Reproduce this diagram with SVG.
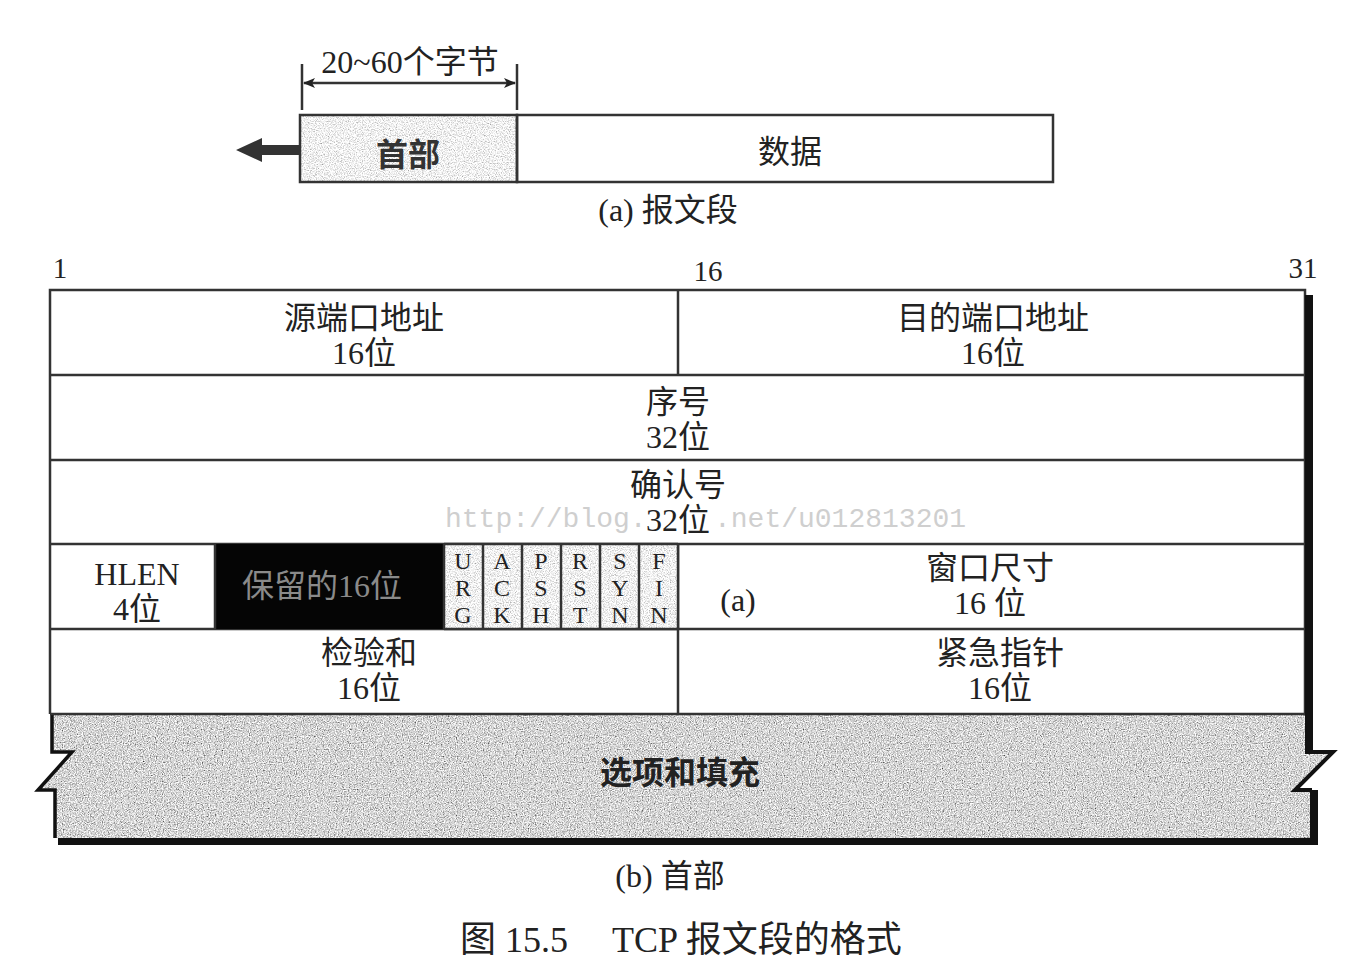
<svg xmlns="http://www.w3.org/2000/svg" width="1348" height="966" viewBox="0 0 1348 966">
  <style>
    .t { font-family: "Liberation Serif", "Noto Sans CJK SC", serif; fill: #222; text-anchor: middle; font-size: 32px; }
    .num { font-size: 29px; }
    .ln { stroke: #333; stroke-width: 2.5; fill: none; }
    .flag { font-family: "Liberation Serif", serif; font-size: 24px; fill: #222; text-anchor: middle; }
    .wm { font-family: "Liberation Mono", monospace; font-size: 28px; fill: #cfcfcf; }
  </style>
  <defs>
    <!-- grainy grey fills, clipped to the shape they are applied to -->
    <filter id="grainDark" x="0" y="0" width="100%" height="100%">
      <feTurbulence type="fractalNoise" baseFrequency="0.85" numOctaves="2" seed="4" result="n"/>
      <feColorMatrix in="n" type="matrix" values="1.6 0 0 0 -0.14  1.6 0 0 0 -0.14  1.6 0 0 0 -0.14  0 0 0 0 1" result="g"/>
      <feComposite in="g" in2="SourceGraphic" operator="in"/>
    </filter>
    <filter id="grainLight" x="0" y="0" width="100%" height="100%">
      <feTurbulence type="fractalNoise" baseFrequency="0.85" numOctaves="2" seed="7" result="n"/>
      <feColorMatrix in="n" type="matrix" values="1.4 0 0 0 0.18  1.4 0 0 0 0.18  1.4 0 0 0 0.18  0 0 0 0 1" result="g"/>
      <feComposite in="g" in2="SourceGraphic" operator="in"/>
    </filter>
    <marker id="tip" viewBox="0 0 12 10" refX="11" refY="5" markerWidth="12" markerHeight="10" markerUnits="userSpaceOnUse" orient="auto-start-reverse">
      <path d="M0,0 L12,5 L0,10 L3,5 Z" fill="#222"/>
    </marker>
  </defs>

  <rect width="1348" height="966" fill="#fff"/>

  <!-- (a) segment -->
  <g id="segment-size">
    <line class="ln" x1="302" y1="64" x2="302" y2="110"/>
    <line class="ln" x1="517" y1="64" x2="517" y2="110"/>
    <line class="ln" x1="304" y1="83" x2="515" y2="83" marker-start="url(#tip)" marker-end="url(#tip)"/>
    <text class="t" x="410" y="73">20~60个字节</text>
  </g>
  <g id="segment-header">
    <rect x="300" y="115" width="217" height="67" fill="#fff" filter="url(#grainLight)"/>
    <rect class="ln" x="300" y="115" width="217" height="67"/>
    <text class="t" x="408" y="166" font-weight="bold" style="fill:#333">首部</text>
  </g>
  <g id="segment-data">
    <rect class="ln" x="517" y="115" width="536" height="67"/>
    <text class="t" x="790" y="163">数据</text>
  </g>
  <g id="segment-arrow">
    <path d="M236,150 L262,138 L262,145 L300,145 L300,155 L262,155 L262,162 Z" fill="#333"/>
  </g>
  <text class="t" x="668" y="221">(a) 报文段</text>

  <!-- bit positions -->
  <text class="t num" x="60" y="278">1</text>
  <text class="t num" x="708" y="281">16</text>
  <text class="t num" x="1303" y="278">31</text>

  <!-- (b) header table -->
  <g id="options">
    <path d="M52,714 H1305 V752 H1333 L1295,790 H1312 V838 H55 V790 H38 L72,752 H52 Z" fill="#fff" filter="url(#grainDark)"/>
    <path d="M52,714 V752 H72 L38,790 H55 V838" fill="none" stroke="#111" stroke-width="3.5"/>
    <path d="M1305,752 H1333 L1295,790 H1312" fill="none" stroke="#111" stroke-width="4"/>
    <rect x="1310" y="790" width="8" height="55" fill="#111"/>
    <rect x="58" y="838" width="1260" height="7" fill="#111"/>
    <text class="t" x="680" y="784" font-weight="bold">选项和填充</text>
  </g>

  <g id="table-frame">
    <path class="ln" d="M50,714 V290 H1305 V714"/>
    <rect x="1305" y="295" width="8" height="457" fill="#111"/>
    <line class="ln" x1="50" y1="375" x2="1305" y2="375"/>
    <line class="ln" x1="50" y1="460" x2="1305" y2="460"/>
    <line class="ln" x1="50" y1="544" x2="1305" y2="544"/>
    <line class="ln" x1="50" y1="629" x2="1305" y2="629"/>
    <line class="ln" x1="50" y1="714" x2="1305" y2="714"/>
    <line class="ln" x1="678" y1="290" x2="678" y2="375"/>
    <line class="ln" x1="678" y1="544" x2="678" y2="714"/>
  </g>

  <g id="source-port">
    <text class="t" x="364" y="329">源端口地址</text>
    <text class="t" x="364" y="364">16位</text>
  </g>
  <g id="dest-port">
    <text class="t" x="993" y="329">目的端口地址</text>
    <text class="t" x="993" y="364">16位</text>
  </g>
  <g id="sequence">
    <text class="t" x="678" y="413">序号</text>
    <text class="t" x="678" y="448">32位</text>
  </g>
  <g id="acknowledgment">
    <text class="wm" x="445" y="527">http://blog.</text>
    <text class="wm" x="714" y="527">.net/u012813201</text>
    <text class="t" x="678" y="496">确认号</text>
    <text class="t" x="678" y="531">32位</text>
  </g>
  <g id="hlen">
    <text class="t" x="137" y="585">HLEN</text>
    <text class="t" x="137" y="620">4位</text>
  </g>
  <g id="reserved">
    <rect x="215" y="544" width="229" height="85" fill="#050505"/>
    <text class="t" x="322" y="597" style="fill:#8a8a8a">保留的16位</text>
  </g>
  <g id="flags">
    <rect x="444" y="544" width="234" height="85" fill="#fff" filter="url(#grainLight)"/>
    <g class="ln">
      <line x1="215" y1="544" x2="215" y2="629"/>
      <line x1="444" y1="544" x2="444" y2="629"/>
      <line x1="483" y1="544" x2="483" y2="629"/>
      <line x1="522" y1="544" x2="522" y2="629"/>
      <line x1="561" y1="544" x2="561" y2="629"/>
      <line x1="600" y1="544" x2="600" y2="629"/>
      <line x1="639" y1="544" x2="639" y2="629"/>
      <line x1="678" y1="544" x2="678" y2="629"/>
      <line x1="444" y1="544" x2="678" y2="544"/>
      <line x1="444" y1="629" x2="678" y2="629"/>
    </g>
    <text class="flag" x="463" y="569">U</text><text class="flag" x="463" y="596">R</text><text class="flag" x="463" y="623">G</text>
    <text class="flag" x="502" y="569">A</text><text class="flag" x="502" y="596">C</text><text class="flag" x="502" y="623">K</text>
    <text class="flag" x="541" y="569">P</text><text class="flag" x="541" y="596">S</text><text class="flag" x="541" y="623">H</text>
    <text class="flag" x="580" y="569">R</text><text class="flag" x="580" y="596">S</text><text class="flag" x="580" y="623">T</text>
    <text class="flag" x="620" y="569">S</text><text class="flag" x="620" y="596">Y</text><text class="flag" x="620" y="623">N</text>
    <text class="flag" x="659" y="569">F</text><text class="flag" x="659" y="596">I</text><text class="flag" x="659" y="623">N</text>
  </g>
  <g id="window">
    <text class="t" x="738" y="611">(a)</text>
    <text class="t" x="990" y="579">窗口尺寸</text>
    <text class="t" x="990" y="614">16 位</text>
  </g>
  <g id="checksum">
    <text class="t" x="369" y="664">检验和</text>
    <text class="t" x="369" y="699">16位</text>
  </g>
  <g id="urgent-pointer">
    <text class="t" x="1000" y="664">紧急指针</text>
    <text class="t" x="1000" y="699">16位</text>
  </g>

  <text class="t" x="670" y="887">(b) 首部</text>
  <text class="t" x="460" y="952" style="text-anchor:start;font-size:36px">图 15.5</text>
  <text class="t" x="612" y="952" style="text-anchor:start;font-size:36px">TCP 报文段的格式</text>
</svg>
